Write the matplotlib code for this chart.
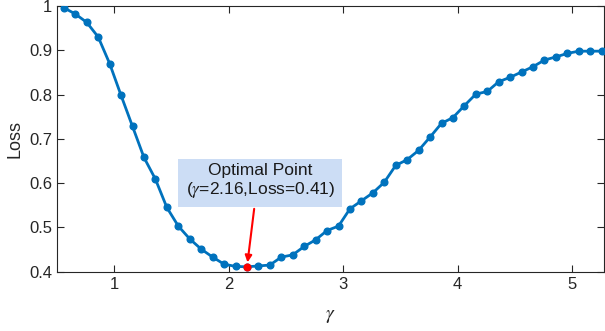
from matplotlib import pyplot as plt
from matplotlib.ticker import FuncFormatter
import numpy as np

plt.rcParams['font.family'] = ['Liberation Sans', 'DejaVu Sans']
plt.rcParams['mathtext.fontset'] = 'stix'

gamma = [0.56, 0.66, 0.76, 0.86, 0.96, 1.06, 1.16, 1.26, 1.36, 1.46,
         1.56, 1.66, 1.76, 1.86, 1.96, 2.06, 2.16, 2.26, 2.36, 2.46,
         2.56, 2.66, 2.76, 2.86, 2.96, 3.06, 3.16, 3.26, 3.36, 3.46,
         3.56, 3.66, 3.76, 3.86, 3.96, 4.06, 4.16, 4.26, 4.36, 4.46,
         4.56, 4.66, 4.76, 4.86, 4.96, 5.06, 5.16, 5.26]
loss = [0.996, 0.982, 0.963, 0.930, 0.870, 0.798, 0.728, 0.658, 0.609, 0.545,
        0.503, 0.474, 0.451, 0.433, 0.417, 0.412, 0.411, 0.413, 0.415, 0.433,
        0.438, 0.457, 0.472, 0.493, 0.503, 0.542, 0.560, 0.578, 0.602, 0.640,
        0.653, 0.674, 0.704, 0.735, 0.748, 0.775, 0.801, 0.807, 0.829, 0.839,
        0.851, 0.863, 0.878, 0.885, 0.893, 0.898, 0.898, 0.898]
opt_gamma = 2.16
opt_loss = 0.411

axcol = '#262626'
fig = plt.figure(figsize=(6.05, 3.31), dpi=100)
ax = fig.add_axes([57/605, 1-271.7/331, 547/605, 265.7/331])

ax.plot(gamma, loss, '-o', color='#0072BD', lw=2, ms=4.8, zorder=3)
ax.plot([opt_gamma], [opt_loss], 'o', color='red', ms=4.8, zorder=4)

ax.set_xlim(0.5, 5.28)
ax.set_ylim(0.4, 1.0)
ax.set_xticks([1, 2, 3, 4, 5])
ax.set_yticks([0.4, 0.5, 0.6, 0.7, 0.8, 0.9, 1.0])
ax.yaxis.set_major_formatter(FuncFormatter(lambda v, p: ('%g' % round(v, 2))))
ax.tick_params(direction='in', length=5, width=0.8, colors=axcol, labelsize=12,
               top=True, right=True, labelcolor=axcol)
for s in ax.spines.values():
    s.set_color(axcol)
    s.set_linewidth(0.8)

ax.set_xlabel(r'$\gamma$', fontsize=14, color=axcol, labelpad=12)
ax.set_ylabel('Loss', fontsize=13, color=axcol, labelpad=4)

# text box
ax.text(2.275, 0.604, 'Optimal Point\n(' + r'$\gamma$' + '=2.16,Loss=0.41)',
        ha='center', va='center', fontsize=12.5, color='#1a1a1a',
        linespacing=1.15,
        bbox=dict(boxstyle='square,pad=0.42', fc='#CCDDF5', ec='none'),
        zorder=5)
# arrow
ax.annotate('', xy=(opt_gamma + 0.005, 0.421), xytext=(2.223, 0.542),
            arrowprops=dict(arrowstyle='-|>', color='red', lw=1.5,
                            mutation_scale=10, shrinkA=0, shrinkB=0),
            zorder=5)

fig.savefig('out.png', dpi=100)
